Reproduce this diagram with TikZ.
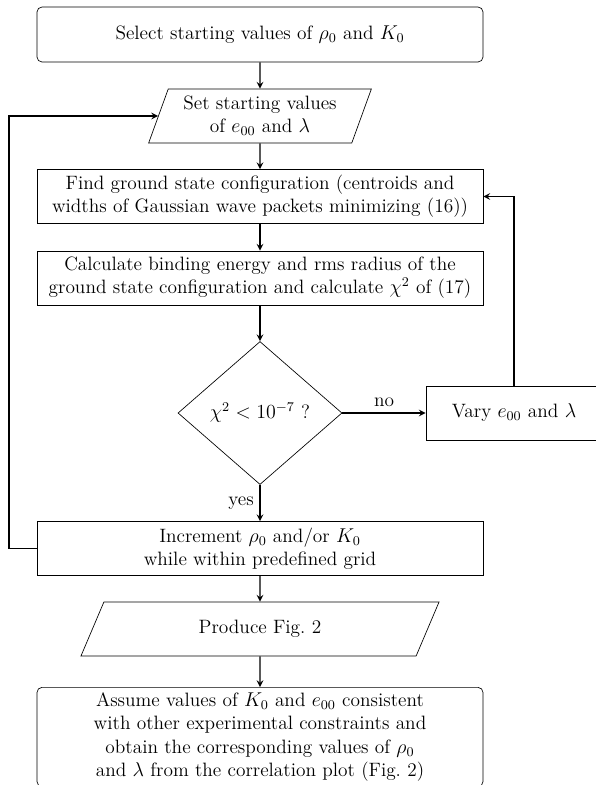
\documentclass[tikz,border=0pt]{standalone}
\usepackage{amsmath}
\usepackage{tikz}
\usetikzlibrary{shapes.geometric,arrows,positioning}

\tikzstyle{startstop} = [rectangle, rounded corners=3pt, minimum width=267.6pt, minimum height=33pt, text centered, align=center, draw]
\tikzstyle{io} = [trapezium, trapezium left angle=71, trapezium right angle=109, trapezium stretches=true, minimum height=32.4pt, text centered, align=center, draw]
\tikzstyle{process} = [rectangle, minimum width=267.6pt, minimum height=32.4pt, text centered, align=center, draw]
\tikzstyle{decision} = [diamond, minimum width=98.4pt, minimum height=85.8pt, inner sep=0pt, text centered, draw]
\tikzstyle{arrow} = [thick,->,>=stealth]

\begin{document}
\begin{tikzpicture}[x=0.6pt, y=-0.6pt, every node/.style={font=\fontsize{11.6}{13.9}\selectfont}]
\useasboundingbox (0,0) rectangle (596,785);

% Start
\node (start) [startstop] at (260,34.5) {Select starting values of $\rho_0$ and $K_0$};
\node (setval) [io, minimum width=133.8pt] at (260,116) {Set starting values\\of $e_{00}$ and $\lambda$};

% Fit loop
\node (find) [process] at (260,196.5) {Find ground state configuration (centroids and\\widths of Gaussian wave packets minimizing (16))};
\node (calc) [process] at (260,278) {Calculate binding energy and rms radius of the\\ground state configuration and calculate $\chi^2$ of (17)};
\node (decide) [decision] at (260,413) {$\chi^2 < 10^{-7}$ ?};
\node (vary) [process, minimum width=105.6pt] at (514,413) {Vary $e_{00}$ and $\lambda$};

% Grid
\node (incr) [process] at (260,548.5) {Increment $\rho_0$ and/or $K_0$\\while within predefined grid};
\coordinate (back) at (9,548.5);

% Output
\node (produce) [io, minimum width=216.6pt] at (260,629) {Produce Fig.~2};
\node (final) [startstop, minimum height=58.8pt] at (260,737) {Assume values of $K_0$ and $e_{00}$ consistent\\with other experimental constraints and\\obtain the corresponding values of $\rho_0$\\and $\lambda$ from the correlation plot (Fig.~2)};

% Arrows
\draw [arrow] (start) -- (setval);
\draw [arrow] (setval) -- (find);
\draw [arrow] (find) -- (calc);
\draw [arrow] (calc) -- (decide);
\draw [arrow] (decide) -- node[above] {no} (vary);
\draw [arrow] (vary.north) |- (find.east);
\draw [arrow] (decide) -- node[left] {yes} (incr);
\draw [arrow] (incr.west) -- (back) |- (setval.west);
\draw [arrow] (incr) -- (produce);
\draw [arrow] (produce) -- (final);

\end{tikzpicture}
\end{document}
